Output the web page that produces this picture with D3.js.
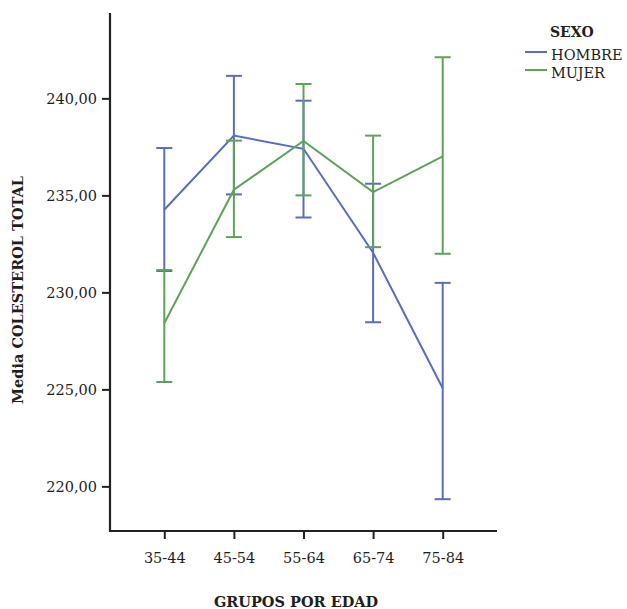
<!DOCTYPE html>
<html>
<head>
<meta charset="utf-8">
<script src="https://cdn.jsdelivr.net/npm/d3@7"></script>
<style>
  html, body { margin: 0; padding: 0; background: #fff; }
  svg { display: block; }
  text { font-family: "DejaVu Serif", serif; fill: #1e1e1e; }
</style>
</head>
<body>
<script>
// Age groups on the x axis
const ageGroups = ["35-44", "45-54", "55-64", "65-74", "75-84"];

// Mean total cholesterol with lower / upper error-bar limits, by sex
const hombreMean  = [234.26, 238.08, 237.40, 232.04, 225.06];
const hombreLower = [231.10, 235.05, 233.86, 228.46, 219.34];
const hombreUpper = [237.44, 241.16, 239.88, 235.60, 230.49];

const mujerMean  = [228.41, 235.29, 237.80, 235.17, 237.01];
const mujerLower = [225.38, 232.85, 235.00, 232.33, 231.99];
const mujerUpper = [231.15, 237.82, 240.74, 238.08, 242.12];

const yTicks = [220, 225, 230, 235, 240];
const seriesNames = ["HOMBRE", "MUJER"];
const seriesColors = ["#5a6dbd", "#5ea259"];

const W = 627, H = 609;
const plotLeft = 110, plotRight = 497, plotTop = 13, plotBottom = 531;

const svg = d3.select("body").append("svg")
  .attr("width", W).attr("height", H);

const x = d3.scalePoint().domain(ageGroups).range([plotLeft, plotRight]).padding(0.78);
const y = d3.scaleLinear().domain([217.7, 244.4]).range([plotBottom, plotTop]);

// Axes
const yAxis = d3.axisLeft(y).tickValues(yTicks)
  .tickFormat(d => d3.format(".2f")(d).replace(".", ","))
  .tickSize(8).tickPadding(5).tickSizeOuter(0);
const gy = svg.append("g").attr("transform", `translate(${plotLeft},0)`).call(yAxis);

const xAxis = d3.axisBottom(x).tickSize(8).tickPadding(14).tickSizeOuter(0);
const gx = svg.append("g").attr("transform", `translate(0,${plotBottom})`).call(xAxis);

[gx, gy].forEach(g => {
  g.select(".domain").attr("stroke", "#222").attr("stroke-width", 2.2);
  g.selectAll(".tick line").attr("stroke", "#222").attr("stroke-width", 2);
  g.selectAll(".tick text").attr("font-family", "DejaVu Serif").attr("font-size", 14.5).attr("fill", "#1e1e1e");
});
// Extend the axis lines so they meet at the corner
gx.select(".domain").attr("d", `M${plotLeft - 1},0H${plotRight}`);
gy.select(".domain").attr("d", `M0,${plotTop}V${plotBottom + 1}`);

// Series
const series = [
  { name: seriesNames[0], color: seriesColors[0], mean: hombreMean, lo: hombreLower, hi: hombreUpper },
  { name: seriesNames[1], color: seriesColors[1], mean: mujerMean, lo: mujerLower, hi: mujerUpper }
];

const line = d3.line().x((d, i) => x(ageGroups[i])).y(d => y(d));
const capHalf = 8;

series.forEach(s => {
  const g = svg.append("g");
  g.append("path").datum(s.mean).attr("d", line)
    .attr("fill", "none").attr("stroke", s.color).attr("stroke-width", 2);
  ageGroups.forEach((a, i) => {
    const cx = x(a);
    g.append("line").attr("x1", cx).attr("x2", cx)
      .attr("y1", y(s.lo[i])).attr("y2", y(s.hi[i]))
      .attr("stroke", s.color).attr("stroke-width", 2);
    [s.lo[i], s.hi[i]].forEach(v => {
      g.append("line").attr("x1", cx - capHalf).attr("x2", cx + capHalf)
        .attr("y1", y(v)).attr("y2", y(v))
        .attr("stroke", s.color).attr("stroke-width", 2);
    });
  });
});

// Axis titles
svg.append("text").attr("x", 296).attr("y", 607)
  .attr("text-anchor", "middle").attr("font-weight", "bold").attr("font-size", 14.5)
  .text("GRUPOS POR EDAD");
svg.append("text")
  .attr("transform", "translate(23,290) rotate(-90)")
  .attr("text-anchor", "middle").attr("font-weight", "bold").attr("font-size", 14.5)
  .text("Media COLESTEROL TOTAL");

// Legend
const lg = svg.append("g");
lg.append("text").attr("x", 550).attr("y", 37).attr("font-weight", "bold").attr("font-size", 14)
  .text("SEXO");
series.forEach((s, i) => {
  const yy = 52 + i * 18;
  lg.append("line").attr("x1", 525).attr("x2", 547).attr("y1", yy).attr("y2", yy)
    .attr("stroke", s.color).attr("stroke-width", 2);
  lg.append("text").attr("x", 551).attr("y", yy + 8).attr("font-size", 14.5)
    .text(s.name);
});
</script>
</body>
</html>
